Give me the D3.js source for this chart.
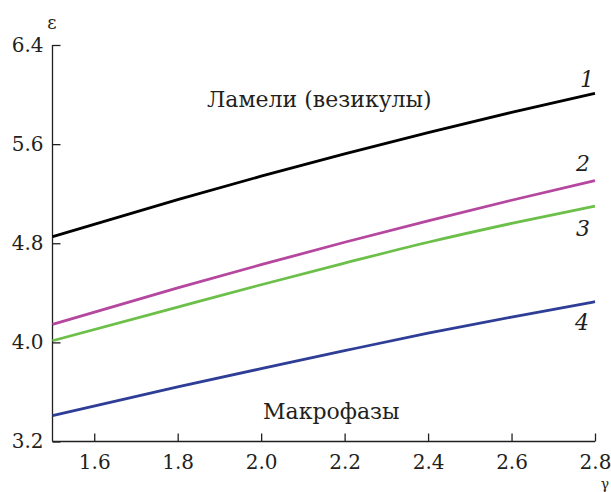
<!DOCTYPE html>
<html>
<head>
<meta charset="utf-8">
<script src="https://cdn.jsdelivr.net/npm/d3@7"></script>
<style>
  html, body { margin: 0; padding: 0; background: #fff; }
  svg { display: block; }
  svg text { font-family: "DejaVu Serif", serif; fill: #231f20; }
</style>
</head>
<body>
<svg id="chart" width="611" height="492"></svg>
<script>
// γ values where each curve is sampled
const gamma = [1.5, 1.8, 2.0, 2.2, 2.4, 2.6, 2.8];

// ε(γ) for the four boundary curves
const curve1 = [4.853, 5.152, 5.341, 5.521, 5.693, 5.856, 6.01];
const curve2 = [4.145, 4.440, 4.627, 4.808, 4.980, 5.147, 5.305];
const curve3 = [4.013, 4.285, 4.465, 4.640, 4.808, 4.960, 5.10];
const curve4 = [3.408, 3.640, 3.788, 3.933, 4.074, 4.204, 4.328];

const curveNames = ["1", "2", "3", "4"];
const curveColors = ["#000000", "#b5479f", "#6cc04a", "#2e3d96"];

const xTicks = [1.6, 1.8, 2.0, 2.2, 2.4, 2.6, 2.8];
const yTicks = [3.2, 4.0, 4.8, 5.6, 6.4];

const regionLabels = ["Ламели (везикулы)", "Макрофазы"];

const svg = d3.select("#chart");

const x = d3.scaleLinear().domain([1.5, 2.8]).range([52.5, 595]);
const y = d3.scaleLinear().domain([3.2, 6.4]).range([441.5, 45]);

// x axis: ticks pointing up into the plot
const xAxis = svg.append("g")
  .attr("transform", `translate(0,${y(3.2)})`)
  .call(d3.axisBottom(x).tickValues(xTicks).tickFormat(d3.format(".1f"))
    .tickSizeInner(-8).tickSizeOuter(0).tickPadding(13));
xAxis.attr("font-family", null);
xAxis.select(".domain").attr("stroke", "#231f20").attr("stroke-width", 1.3)
  .attr("d", `M${x(1.5)},0H${x(2.8)}`);
xAxis.selectAll(".tick line").attr("stroke", "#231f20").attr("stroke-width", 1.3);
xAxis.selectAll(".tick text").attr("font-size", 20).attr("fill", "#231f20");

// y axis: ticks pointing right into the plot
const yAxis = svg.append("g")
  .attr("transform", `translate(${x(1.5)},0)`)
  .call(d3.axisLeft(y).tickValues(yTicks).tickFormat(d3.format(".1f"))
    .tickSizeInner(-8).tickSizeOuter(0).tickPadding(9));
yAxis.attr("font-family", null);
yAxis.select(".domain").attr("stroke", "#231f20").attr("stroke-width", 1.3)
  .attr("d", `M0,${y(3.2)}V${y(6.4)}`);
yAxis.selectAll(".tick line").attr("stroke", "#231f20").attr("stroke-width", 1.3);
yAxis.selectAll(".tick text").attr("font-size", 20).attr("fill", "#231f20");

// axis names
svg.append("text").attr("x", 52).attr("y", 29).attr("text-anchor", "middle")
  .attr("font-size", 18).text("ε");
svg.append("text").attr("x", 605).attr("y", 489).attr("text-anchor", "middle")
  .attr("font-size", 14).text("γ");

// curves
const line = d3.line().x((d, i) => x(gamma[i])).y(d => y(d)).curve(d3.curveMonotoneX);
const series = [curve1, curve2, curve3, curve4];
series.forEach((s, k) => {
  svg.append("path").datum(s)
    .attr("fill", "none")
    .attr("stroke", curveColors[k])
    .attr("stroke-width", 2.8)
    .attr("d", line);
});

// curve numbers
const numPos = [[587, 87], [583, 171], [583, 236], [582, 330]];
curveNames.forEach((n, k) => {
  svg.append("text").attr("x", numPos[k][0]).attr("y", numPos[k][1])
    .attr("text-anchor", "middle").attr("font-style", "italic")
    .attr("font-size", 22).text(n);
});

// region names
svg.append("text").attr("x", 207).attr("y", 107).attr("font-size", 22).text(regionLabels[0]);
svg.append("text").attr("x", 263).attr("y", 419).attr("font-size", 22).text(regionLabels[1]);
</script>
</body>
</html>
